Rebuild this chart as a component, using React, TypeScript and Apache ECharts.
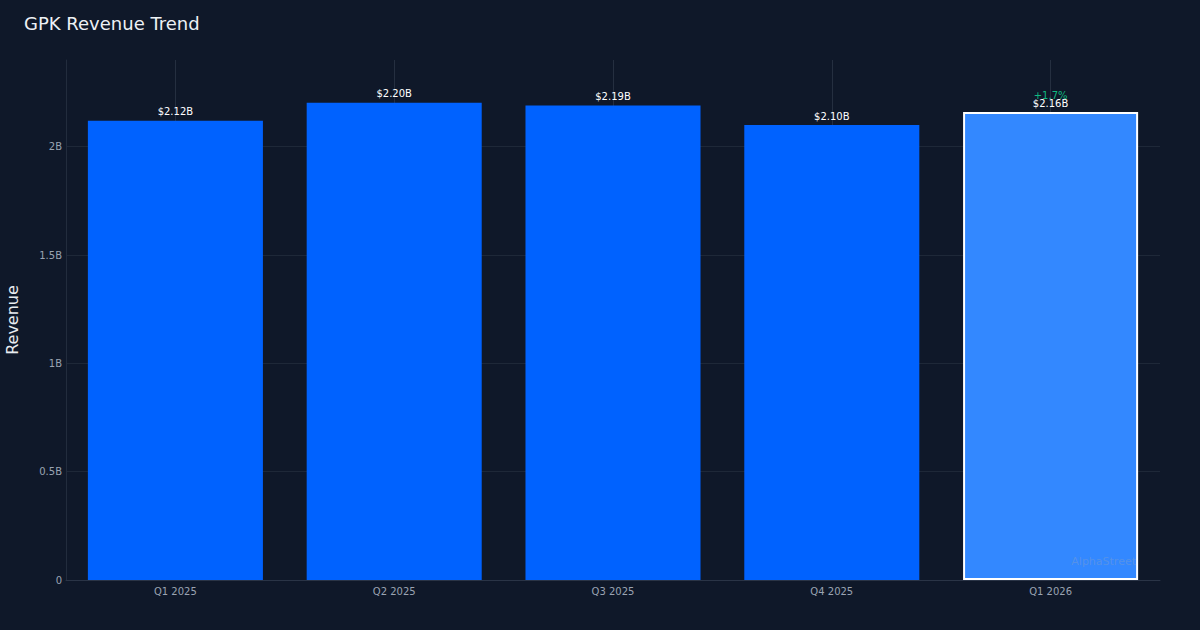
import React, { useEffect, useRef } from "react";
import * as echarts from "echarts";

const categories = ["Q1 2025", "Q2 2025", "Q3 2025", "Q4 2025", "Q1 2026"];
const revenue = [2.12e9, 2.203e9, 2.19e9, 2.1e9, 2.16e9];
const valueLabels = ["$2.12B", "$2.20B", "$2.19B", "$2.10B", "$2.16B"];
const changeLabel = "+1.7%";
const yTickLabels: Record<number, string> = { 0: "0", 0.5e9: "0.5B", 1e9: "1B", 1.5e9: "1.5B", 2e9: "2B" };
const highlightIndex = 4;

const FONT = "DejaVu Sans";

export default function App() {
  const ref = useRef<HTMLDivElement>(null);
  useEffect(() => {
    if (!ref.current) return;
    const chart = echarts.init(ref.current, null, { renderer: "svg" });
    const grid = "#1e2838";
    chart.setOption({
      animation: false,
      backgroundColor: "#0f1829",
      textStyle: { fontFamily: FONT },
      title: {
        text: "GPK Revenue Trend",
        left: 24,
        top: 14,
        padding: 0,
        textStyle: { color: "#eef1f5", fontSize: 18, fontWeight: "normal", fontFamily: FONT },
      },
      grid: { left: 66, right: 40, top: 60, bottom: 50, containLabel: false, outerBoundsMode: "none" },
      xAxis: {
        type: "category",
        data: categories,
        axisLine: { show: true, lineStyle: { color: "#2a3446" } },
        axisTick: { show: false },
        axisLabel: { color: "#9aa3b2", fontSize: 10, margin: 6 },
        splitLine: { show: true, alignWithLabel: true, lineStyle: { color: "#252f40", width: 1 } },
      },
      yAxis: {
        type: "value",
        min: 0,
        max: 2.4e9,
        interval: 0.5e9,
        name: "Revenue",
        nameLocation: "middle",
        nameRotate: 90,
        nameGap: 46,
        nameTextStyle: { color: "#e8ecf1", fontSize: 16 },
        axisLine: { show: true, lineStyle: { color: "#222c3d" } },
        axisTick: { show: false },
        axisLabel: {
          color: "#9aa3b2",
          fontSize: 10,
          margin: 4,
          showMaxLabel: false,
          formatter: (v: number) => yTickLabels[v] ?? "",
        },
        splitLine: {
          show: true,
          lineStyle: { color: [grid, grid, grid, grid, grid, "rgba(0,0,0,0)"], width: 1 },
        },
      },
      series: [
        {
          type: "bar",
          barWidth: "80%",
          data: revenue.map((v, i) =>
            i === highlightIndex
              ? {
                  value: v,
                  itemStyle: { color: "#3388ff", borderColor: "#ffffff", borderWidth: 2 },
                  label: {
                    formatter: "{g|" + changeLabel + "}\n{w|" + valueLabels[i] + "}",
                    rich: {
                      g: { color: "#10b981", fontSize: 10, lineHeight: 6 },
                      w: { color: "#ffffff", fontSize: 10, lineHeight: 10 },
                    },
                  },
                }
              : { value: v, itemStyle: { color: "#0062ff" } }
          ),
          label: {
            show: true,
            position: "top",
            distance: 4,
            color: "#ffffff",
            fontSize: 10,
            formatter: (p: any) => valueLabels[p.dataIndex],
          },
        },
      ],
      graphic: [
        {
          type: "text",
          right: 64,
          top: 556,
          style: { text: "AlphaStreet", fill: "rgba(150,165,190,0.35)", fontSize: 11, fontFamily: FONT },
          z: 10,
        },
      ],
    });
    return () => chart.dispose();
  }, []);
  return <div ref={ref} style={{ position: "fixed", left: 0, top: 0, width: 1200, height: 630 }} />;
}
